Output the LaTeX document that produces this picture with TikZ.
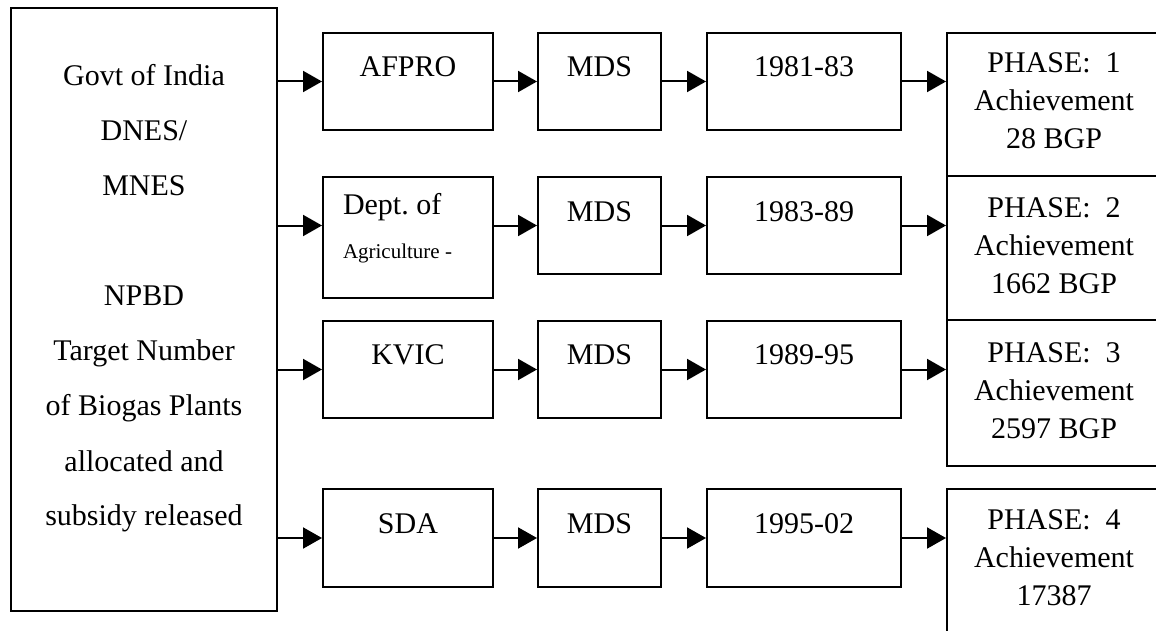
\documentclass[tikz,border=0pt]{standalone}
\usepackage{fontspec}
\setmainfont{Liberation Serif}
\usetikzlibrary{arrows.meta}

\newcommand{\lines}[2][c]{\spaceskip=0pt\xspaceskip=0pt\begin{tabular}[t]{@{}#1@{}}#2\end{tabular}}

\begin{document}
\begin{tikzpicture}[x=0.5pt, y=-0.5pt, line width=1pt,
    box/.style={draw, anchor=north west, inner ysep=0pt, inner xsep=2pt, align=center,
                font=\fontsize{15}{19}\selectfont\frenchspacing},
    arr/.style={-{Triangle[length=9.5pt, width=10.5pt]}}]
        \useasboundingbox (0,0) rectangle (1156,631);
        \clip (0,0) rectangle (1156,631);

        \node[box, minimum width=133pt, text height=39pt, text depth=262.5pt,
              font=\fontsize{15}{27.5}\selectfont] (govt) at (10,7)
              {\lines{Govt of India\\DNES/\\MNES\\[27.5pt]NPBD\\Target Number\\of Biogas Plants\\allocated and\\subsidy released}};

        % first row
        \node[box, minimum width=85pt, text height=21.5pt, text depth=27pt] (agency1) at (322,32) {AFPRO};
        \node[box, minimum width=61.5pt, text height=21.5pt, text depth=27pt] (mds1) at (537,32) {MDS};
        \node[box, minimum width=97pt, text height=21.5pt, text depth=27pt] (period1) at (706,32) {1981-83};
        \node[box, minimum width=107pt, text height=20pt, text depth=51.5pt] (phase1) at (946,32)
              {\lines{PHASE:\ \ 1\\Achievement\\28 BGP}};

        % second row
        \node[box, text width=65pt, inner xsep=10pt, align=left,
              text height=18.5pt, text depth=42pt] (agency2) at (322,176)
              {\lines[l]{Dept. of\\[3pt]{\fontsize{10.5}{12}\selectfont Agriculture -}}};
        \node[box, minimum width=61.5pt, text height=22pt, text depth=26.5pt] (mds2) at (537,176) {MDS};
        \node[box, minimum width=97pt, text height=22pt, text depth=26.5pt] (period2) at (706,176) {1983-89};
        \node[box, minimum width=107pt, text height=20.5pt, text depth=51.5pt] (phase2) at (946,175)
              {\lines{PHASE:\ \ 2\\Achievement\\1662 BGP}};

        % third row
        \node[box, minimum width=85pt, text height=21.5pt, text depth=27pt] (agency3) at (322,320) {KVIC};
        \node[box, minimum width=61.5pt, text height=21.5pt, text depth=27pt] (mds3) at (537,320) {MDS};
        \node[box, minimum width=97pt, text height=21.5pt, text depth=27pt] (period3) at (706,320) {1989-95};
        \node[box, minimum width=107pt, text height=21pt, text depth=52pt] (phase3) at (946,319)
              {\lines{PHASE:\ \ 3\\Achievement\\2597 BGP}};

        % fourth row
        \node[box, minimum width=85pt, text height=22pt, text depth=27pt] (agency4) at (322,488) {SDA};
        \node[box, minimum width=61.5pt, text height=22pt, text depth=27pt] (mds4) at (537,488) {MDS};
        \node[box, minimum width=97pt, text height=22pt, text depth=27pt] (period4) at (706,488) {1995-02};
        \node[box, minimum width=107pt, text height=20pt, text depth=56pt] (phase4) at (946,488)
              {\lines{PHASE:\ \ 4\\Achievement\\17387}};

        \draw[arr] (mds1.west -| govt.east) -- (mds1.west -| agency1.west);
        \draw[arr] (mds1.west -| agency1.east) -- (mds1.west);
        \draw[arr] (mds1.east) -- (period1.west);
        \draw[arr] (period1.east) -- (period1.east -| phase1.west);

        \draw[arr] (mds2.west -| govt.east) -- (mds2.west -| agency2.west);
        \draw[arr] (mds2.west -| agency2.east) -- (mds2.west);
        \draw[arr] (mds2.east) -- (period2.west);
        \draw[arr] (period2.east) -- (period2.east -| phase2.west);

        \draw[arr] (mds3.west -| govt.east) -- (mds3.west -| agency3.west);
        \draw[arr] (mds3.west -| agency3.east) -- (mds3.west);
        \draw[arr] (mds3.east) -- (period3.west);
        \draw[arr] (period3.east) -- (period3.east -| phase3.west);

        \draw[arr] (mds4.west -| govt.east) -- (mds4.west -| agency4.west);
        \draw[arr] (mds4.west -| agency4.east) -- (mds4.west);
        \draw[arr] (mds4.east) -- (period4.west);
        \draw[arr] (period4.east) -- (period4.east -| phase4.west);
\end{tikzpicture}
\end{document}
